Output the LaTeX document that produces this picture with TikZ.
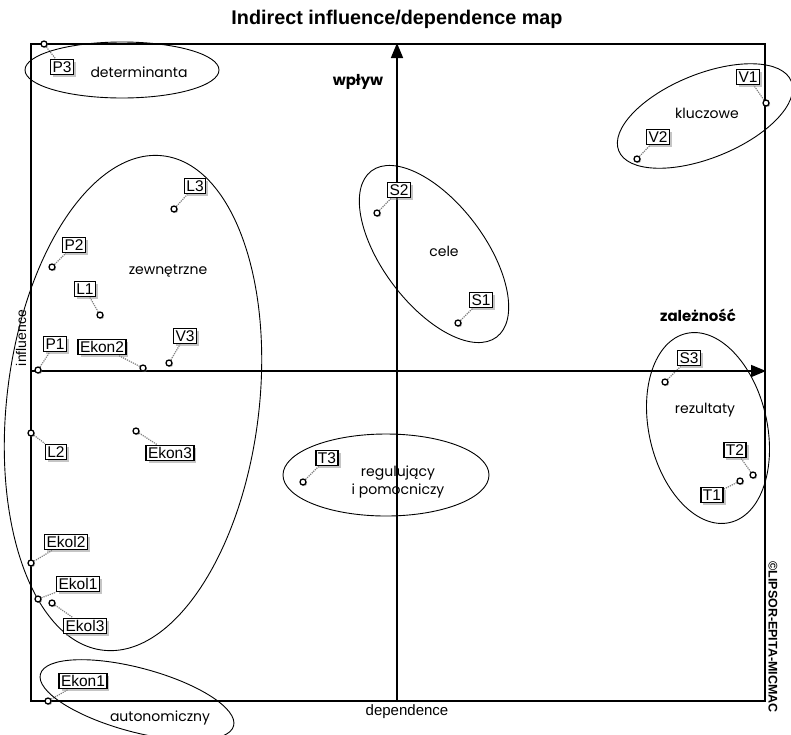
\documentclass[tikz,border=0pt]{standalone}
\usepackage{fontspec}
\setmainfont{Liberation Sans}
\newfontfamily\geofont{Poppins}
\usetikzlibrary{shadows,arrows.meta,backgrounds}

\begin{document}
\begin{tikzpicture}[x=1pt, y=1pt,
  actor/.style={draw, fill=white, line width=1.3pt, inner xsep=2pt, inner ysep=1.8pt,
    font=\fontsize{15.5}{15.5}\selectfont, text height=11.5pt, text depth=0.5pt,
    drop shadow={shadow xshift=2.5pt, shadow yshift=-2.5pt, fill=black!45}},
  pointmark/.style={circle, draw, fill=white, line width=1.3pt, inner sep=0pt, minimum size=6pt,
    drop shadow={shadow xshift=1.2pt, shadow yshift=-1.2pt, fill=black!50}},
  link/.style={densely dotted, line width=1.2pt, black!50},
  cluster/.style={line width=0.9pt},
  clusterlabel/.style={font=\geofont\fontsize{14}{18}\selectfont, align=center},
  quadlabel/.style={font=\geofont\bfseries\fontsize{15}{15}\selectfont},
  mainaxis/.style={line width=1.6pt, -{Triangle[length=15pt, width=12pt]}}
]
\useasboundingbox (0,0) rectangle (791,-734);

% === TITLE AND AXIS NAMES ===
\node[font=\bfseries\fontsize{19.8}{19.8}\selectfont] (title) at (397,-19) {Indirect influence/dependence map};
\node[font=\fontsize{15}{15}\selectfont] (deplabel) at (407,-712) {dependence};
\node[font=\fontsize{14}{14}\selectfont, rotate=90] (inflabel) at (21,-338) {influence};
\node[font=\bfseries\fontsize{12.5}{12.5}\selectfont, rotate=-90] (copyright) at (773,-637) {©LIPSOR-EPITA-MICMAC};
\node[quadlabel] (wplyw) at (358,-82) {wpływ};
\node[quadlabel] (zaleznosc) at (698,-315) {zależność};

% === CLUSTER NAMES ===
\node[clusterlabel] (determinanta) at (139,-72) {determinanta};
\node[clusterlabel] (kluczowe) at (707,-113) {kluczowe};
\node[clusterlabel] (zewnetrzne) at (168,-271) {zewnętrzne};
\node[clusterlabel] (cele) at (444,-251) {cele};
\node[clusterlabel] (rezultaty) at (705,-410) {rezultaty};
\node[clusterlabel] (regulujacy) at (398,-482) {regulujący\\i pomocniczy};
\node[clusterlabel] (autonomiczny) at (160,-718) {autonomiczny};

% === FRAME AND AXES ===
\draw[line width=1.4pt] (31,-44) rectangle (765,-701);
\coordinate (xstart) at (31,-371);
\coordinate (xend) at (766,-371);
\coordinate (ystart) at (397,-701);
\coordinate (yend) at (397,-43);
\draw[mainaxis] (xstart) -- (xend);
\draw[mainaxis] (ystart) -- (yend);

% === CLUSTERS ===
\draw[cluster] (122,-70) ellipse [x radius=97, y radius=28];
\draw[cluster, rotate around={22:(705,-116)}] (705,-116) ellipse [x radius=93, y radius=42];
\draw[cluster, rotate around={-7:(133,-403)}] (133,-403) ellipse [x radius=126, y radius=249];
\draw[cluster, rotate around={-53:(434,-254)}] (434,-254) ellipse [x radius=104, y radius=51];
\draw[cluster, rotate around={13:(708,-428)}] (708,-428) ellipse [x radius=59, y radius=97];
\draw[cluster] (386,-475) ellipse [x radius=103, y radius=41];
\draw[cluster, rotate around={-15:(137,-700)}] (137,-700) ellipse [x radius=100, y radius=32];

% === ACTORS: points ===
\node[pointmark] (pP3) at (44,-44) {};
\node[pointmark] (pV1) at (766,-103) {};
\node[pointmark] (pV2) at (637,-159) {};
\node[pointmark] (pL3) at (174,-209) {};
\node[pointmark] (pS2) at (377,-213) {};
\node[pointmark] (pP2) at (52,-267) {};
\node[pointmark] (pL1) at (100,-315) {};
\node[pointmark] (pS1) at (458,-323) {};
\node[pointmark] (pP1) at (38,-370) {};
\node[pointmark] (pEkon2) at (143,-368) {};
\node[pointmark] (pV3) at (169,-363) {};
\node[pointmark] (pS3) at (665,-382) {};
\node[pointmark] (pL2) at (31,-433) {};
\node[pointmark] (pEkon3) at (136,-431) {};
\node[pointmark] (pT3) at (303,-482) {};
\node[pointmark] (pT2) at (753,-475) {};
\node[pointmark] (pT1) at (740,-481) {};
\node[pointmark] (pEkol2) at (31,-563) {};
\node[pointmark] (pEkol1) at (38,-599) {};
\node[pointmark] (pEkol3) at (52,-603) {};
\node[pointmark] (pEkon1) at (48,-701) {};

% === ACTORS: labels ===
\node[actor] (P3) at (62,-67) {P3};
\node[actor] (V1) at (748,-77) {V1};
\node[actor] (V2) at (658,-137) {V2};
\node[actor] (L3) at (195,-186) {L3};
\node[actor] (S2) at (399,-190) {S2};
\node[actor] (P2) at (74,-245) {P2};
\node[actor] (L1) at (85,-289) {L1};
\node[actor] (S1) at (481,-300) {S1};
\node[actor] (P1) at (55,-344) {P1};
\node[actor] (Ekon2) at (102,-347) {Ekon2};
\node[actor] (V3) at (185,-336) {V3};
\node[actor] (S3) at (689,-358) {S3};
\node[actor] (L2) at (56,-452) {L2};
\node[actor] (Ekon3) at (170,-453) {Ekon3};
\node[actor] (T3) at (327,-458) {T3};
\node[actor] (T2) at (735,-450) {T2};
\node[actor] (T1) at (712,-495) {T1};
\node[actor] (Ekol2) at (66,-542) {Ekol2};
\node[actor] (Ekol1) at (78,-584) {Ekol1};
\node[actor] (Ekol3) at (85,-626) {Ekol3};
\node[actor] (Ekon1) at (83,-681) {Ekon1};

% === LINKS point -> label (kept under the boxes) ===
\begin{scope}[on background layer]
\draw[link] (pP3) -- (P3);
\draw[link] (pV1) -- (V1);
\draw[link] (pV2) -- (V2);
\draw[link] (pL3) -- (L3);
\draw[link] (pS2) -- (S2);
\draw[link] (pP2) -- (P2);
\draw[link] (pL1) -- (L1);
\draw[link] (pS1) -- (S1);
\draw[link] (pP1) -- (P1);
\draw[link] (pEkon2) -- (Ekon2);
\draw[link] (pV3) -- (V3);
\draw[link] (pS3) -- (S3);
\draw[link] (pL2) -- (L2);
\draw[link] (pEkon3) -- (Ekon3);
\draw[link] (pT3) -- (T3);
\draw[link] (pT2) -- (T2);
\draw[link] (pT1) -- (T1);
\draw[link] (pEkol2) -- (Ekol2);
\draw[link] (pEkol1) -- (Ekol1);
\draw[link] (pEkol3) -- (Ekol3);
\draw[link] (pEkon1) -- (Ekon1);
\end{scope}

\end{tikzpicture}
\end{document}
